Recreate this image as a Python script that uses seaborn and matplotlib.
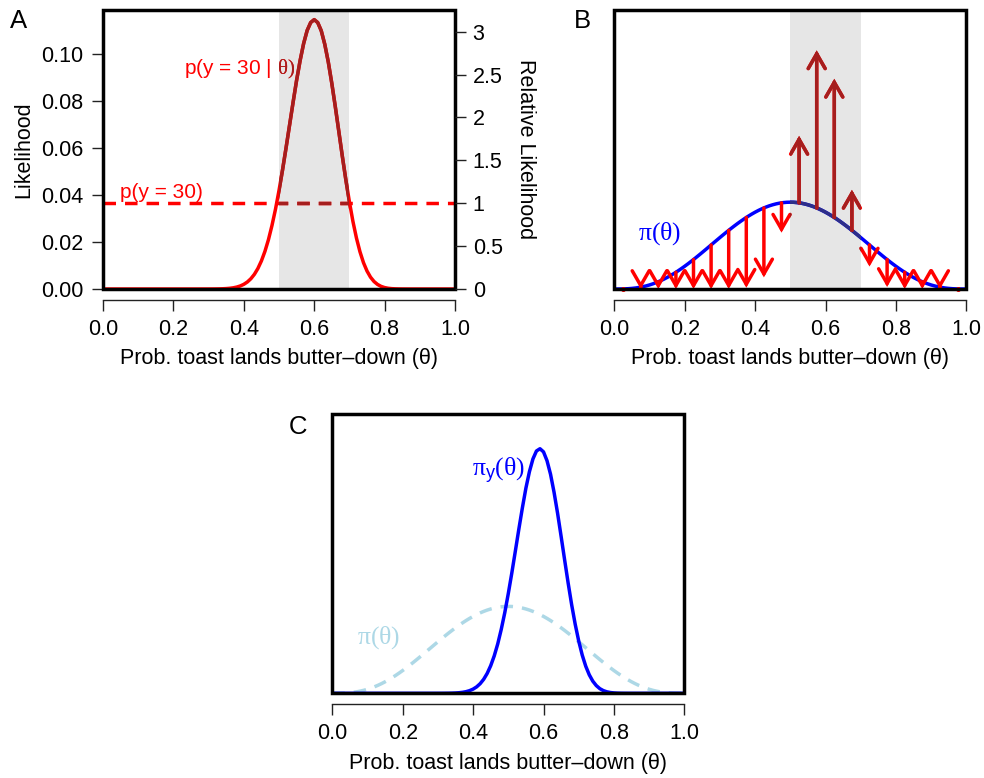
import matplotlib
matplotlib.use("Agg")
import matplotlib.pyplot as plt
import seaborn as sns
from matplotlib.patches import Rectangle, FancyArrowPatch

# ---------------- data ----------------
theta = [0.00, 0.01, 0.02, 0.03, 0.04, 0.05, 0.06, 0.07, 0.08, 0.09,
         0.10, 0.11, 0.12, 0.13, 0.14, 0.15, 0.16, 0.17, 0.18, 0.19,
         0.20, 0.21, 0.22, 0.23, 0.24, 0.25, 0.26, 0.27, 0.28, 0.29,
         0.30, 0.31, 0.32, 0.33, 0.34, 0.35, 0.36, 0.37, 0.38, 0.39,
         0.40, 0.41, 0.42, 0.43, 0.44, 0.45, 0.46, 0.47, 0.48, 0.49,
         0.50, 0.51, 0.52, 0.53, 0.54, 0.55, 0.56, 0.57, 0.58, 0.59,
         0.60, 0.61, 0.62, 0.63, 0.64, 0.65, 0.66, 0.67, 0.68, 0.69,
         0.70, 0.71, 0.72, 0.73, 0.74, 0.75, 0.76, 0.77, 0.78, 0.79,
         0.80, 0.81, 0.82, 0.83, 0.84, 0.85, 0.86, 0.87, 0.88, 0.89,
         0.90, 0.91, 0.92, 0.93, 0.94, 0.95, 0.96, 0.97, 0.98, 0.99, 1.00]

likelihood = [0, 0, 0, 0, 0, 0, 0, 0, 0, 0,
              0, 0, 0, 0, 0, 0, 0, 0, 0, 0,
              0, 0, 0, 0, 0, 0, 0, 0, 0.000002, 0.000004,
              0.000008, 0.0000155, 0.000030, 0.0000563, 0.000102, 0.000179, 0.000306, 0.000508, 0.00082, 0.001294,
              0.00199, 0.002977, 0.00436, 0.006234, 0.00872, 0.011944, 0.0160, 0.020974, 0.0270, 0.033923,
              0.0419, 0.050609, 0.0600, 0.069723, 0.0794, 0.088801, 0.0972, 0.10445, 0.1100, 0.11338,
              0.1146, 0.11336, 0.1099, 0.10413, 0.0966, 0.087504, 0.0775, 0.066968, 0.0564, 0.046349,
              0.0371, 0.028774, 0.0217, 0.015858, 0.0112, 0.007655, 0.00503, 0.003181, 0.00193, 0.001113,
              0.00061, 0.000318, 0.000156, 0.0000715, 0.000030, 0.000012, 0.000004, 0, 0, 0,
              0, 0, 0, 0, 0, 0, 0, 0, 0, 0, 0]

prior = [0.0, 0.000136, 0.00105, 0.00345, 0.0079, 0.0150, 0.0251, 0.0386, 0.0558, 0.0769,
         0.1021, 0.1314, 0.1649, 0.2026, 0.2443, 0.2902, 0.3399, 0.3933, 0.4502, 0.5103,
         0.5734, 0.6392, 0.7074, 0.7776, 0.8496, 0.9229, 0.9971, 1.0720, 1.1471, 1.2221,
         1.2965, 1.3701, 1.4425, 1.5132, 1.5820, 1.6485, 1.7123, 1.7732, 1.8309, 1.8850,
         1.9354, 1.9817, 2.0238, 2.0614, 2.0944, 2.1225, 2.1458, 2.1640, 2.1770, 2.1849,
         2.1875, 2.1849, 2.1770, 2.1640, 2.1458, 2.1225, 2.0944, 2.0614, 2.0238, 1.9817,
         1.9354, 1.8850, 1.8309, 1.7732, 1.7123, 1.6485, 1.5820, 1.5132, 1.4425, 1.3701,
         1.2965, 1.2221, 1.1471, 1.0720, 0.9971, 0.9229, 0.8496, 0.7776, 0.7074, 0.6392,
         0.5734, 0.5103, 0.4502, 0.3933, 0.3399, 0.2902, 0.2443, 0.2026, 0.1649, 0.1314,
         0.1021, 0.0769, 0.0558, 0.0386, 0.0251, 0.0150, 0.0079, 0.00345, 0.00105, 0.000136, 0.0]

posterior = [0, 0, 0, 0, 0, 0, 0, 0, 0, 0,
             0, 0, 0, 0, 0, 0, 0, 0, 0, 0,
             0, 0, 0, 0, 0, 0, 0, 0, 0, 0.0001,
             0.0003, 0.0006, 0.0012, 0.0023, 0.0044, 0.0081, 0.0144, 0.0247, 0.0411, 0.0668,
             0.1054, 0.1616, 0.2417, 0.3521, 0.5004, 0.6945, 0.9406, 1.2435, 1.6104, 2.0306,
             2.5111, 3.0295, 3.5786, 4.1337, 4.668, 5.1638, 5.578, 5.899, 6.099, 6.156,
             6.077, 5.854, 5.513, 5.059, 4.532, 3.952, 3.359, 2.776, 2.229, 1.740,
             1.318, 0.963, 0.682, 0.466, 0.306, 0.194, 0.1171, 0.0678, 0.0374, 0.0195,
             0.0096, 0.0044, 0.0019, 0.0008, 0.0003, 0.0001, 0, 0, 0, 0,
             0, 0, 0, 0, 0, 0, 0, 0, 0, 0, 0]

p_y30 = 0.0365          # marginal likelihood p(y = 30)

arrow_theta = [0.025, 0.075, 0.125, 0.175, 0.225, 0.275, 0.325, 0.375, 0.425, 0.475,
               0.525, 0.575, 0.625, 0.675, 0.725, 0.775, 0.825, 0.875, 0.925, 0.975]
arrow_prior = [0.00203, 0.0467, 0.1832, 0.4213, 0.7423, 1.1095, 1.4780, 1.8025, 2.0431, 2.1711,
               2.1711, 2.0431, 1.8025, 1.4780, 1.1095, 0.7423, 0.4213, 0.1832, 0.0467, 0.00203]
arrow_post = [0, 0, 0, 0, 0, 0, 0.0016, 0.0321, 0.2928, 1.4193,
              3.858, 6.013, 5.296, 2.498, 0.566, 0.0506, 0.0012, 0, 0, 0]

shade_range = [0.5, 0.7]

x_ticks = [0.0, 0.2, 0.4, 0.6, 0.8, 1.0]
x_tick_labels = ["0.0", "0.2", "0.4", "0.6", "0.8", "1.0"]
lik_ticks = [0.00, 0.02, 0.04, 0.06, 0.08, 0.10]
lik_tick_labels = ["0.00", "0.02", "0.04", "0.06", "0.08", "0.10"]
rel_ticks = [0, 0.5, 1, 1.5, 2, 2.5, 3]
rel_tick_labels = ["0", "0.5", "1", "1.5", "2", "2.5", "3"]

x_label = "Prob. toast lands butter\u2013down (\u03b8)"

# ---------------- style ----------------
sns.set_style("white")
plt.rcParams["font.family"] = ["Liberation Sans", "DejaVu Sans"]
plt.rcParams["mathtext.fontset"] = "custom"
plt.rcParams["mathtext.rm"] = "Liberation Serif"
plt.rcParams["mathtext.it"] = "Liberation Serif"
plt.rcParams["mathtext.sf"] = "Liberation Sans"
plt.rcParams["text.color"] = "black"
plt.rcParams["axes.labelcolor"] = "black"
plt.rcParams["xtick.color"] = "black"
plt.rcParams["ytick.color"] = "black"

RED = "#FF0000"
DARKRED = "#A51E1E"
BLUE = "#0000FF"
DARKBLUE = "#2E2E88"
LIGHTBLUE = "#ADD8E6"
SHADE = "#E6E6E6"
AXCOL = "#222222"
FS = 15.5
LW = 2.5
FRAME_LW = 2.5
DASH = (0, (3.6, 2.6))

W, H = 984, 778
fig = plt.figure(figsize=(W / 100, H / 100), dpi=100)


def axes_px(left, top, width, height):
    return fig.add_axes([left / W, 1 - (top + height) / H, width / W, height / H])


def setup_common(ax, ymax):
    ax.set_xlim(0, 1)
    ax.set_ylim(0, ymax)
    ax.set_facecolor("white")
    ax.set_xticks(x_ticks)
    ax.set_xticklabels(x_tick_labels)
    for s in ["top", "right", "left"]:
        ax.spines[s].set_visible(False)
    ax.spines["bottom"].set_position(("outward", 7.7))
    ax.spines["bottom"].set_linewidth(1.0)
    ax.spines["bottom"].set_color(AXCOL)
    ax.tick_params(axis="x", bottom=True, length=7.7, width=1.0, color=AXCOL,
                   pad=6, labelsize=FS, labelcolor="black")
    ax.add_patch(Rectangle((0, 0), 1, 1, transform=ax.transAxes, fill=False,
                           lw=FRAME_LW, ec="black", zorder=10, clip_on=False))
    ax.set_xlabel(x_label, fontsize=FS)
    ax.xaxis.set_label_coords(0.5, -0.213)


def clip_rect(ax):
    return Rectangle((shade_range[0], -1000), shade_range[1] - shade_range[0], 2000,
                     transform=ax.transData)


def dark_copy_line(ax, x, y, color, clip, **kw):
    sns.lineplot(x=x, y=y, ax=ax, color=color, linewidth=LW, legend=False, **kw)
    ln = ax.lines[-1]
    ln.set_clip_path(clip)
    return ln


# ---------------- Panel A ----------------
axA = axes_px(103, 10, 352, 279)
ymaxA = 0.1187
setup_common(axA, ymaxA)
axA.axvspan(shade_range[0], shade_range[1], color=SHADE, lw=0, zorder=0)
clipA = clip_rect(axA)

axA.axhline(p_y30, color=RED, lw=LW, linestyle=DASH, zorder=2)
dA = axA.axhline(p_y30, color=DARKRED, lw=LW, linestyle=DASH, zorder=2)
dA.set_clip_path(clipA)

sns.lineplot(x=theta, y=likelihood, ax=axA, color=RED, linewidth=LW, legend=False, zorder=3)
dark_copy_line(axA, theta, likelihood, DARKRED, clipA, zorder=3)

for col, clip in [(RED, None), (DARKRED, clipA)]:
    t = axA.text(0.545, 0.0932, r"p(y = 30 | $\theta)$", color=col, fontsize=15,
                 ha="right", va="center", zorder=4, clip_on=clip is not None)
    if clip is not None:
        t.set_clip_path(clip)
axA.text(0.048, 0.0409, "p(y = 30)", color=RED, fontsize=15, ha="left", va="center", zorder=4)

axA.set_yticks(lik_ticks)
axA.set_yticklabels(lik_tick_labels)
axA.tick_params(axis="y", left=True, length=7.7, width=1.0, color=AXCOL, pad=6.5, labelsize=FS)
axA.set_ylabel("Likelihood", fontsize=FS)

axA2 = axA.twinx()
axA2.set_ylim(0, ymaxA / p_y30)
for s in axA2.spines.values():
    s.set_visible(False)
axA2.set_yticks(rel_ticks)
axA2.set_yticklabels(rel_tick_labels)
axA2.tick_params(axis="y", right=True, length=7.7, width=1.0, color=AXCOL, pad=5, labelsize=FS)
axA2.set_ylabel("Relative Likelihood", fontsize=FS, rotation=270, va="bottom")
axA2.yaxis.set_label_coords(1.170, 0.5)
axA.yaxis.set_label_coords(-0.195, 0.5)

# ---------------- Panel B ----------------
axB = axes_px(614.3, 10, 352, 279)
ymaxBC = 7.03
setup_common(axB, ymaxBC)
axB.set_yticks([])
axB.axvspan(shade_range[0], shade_range[1], color=SHADE, lw=0, zorder=0)
clipB = clip_rect(axB)

sns.lineplot(x=theta, y=prior, ax=axB, color=BLUE, linewidth=LW, legend=False, zorder=2)
dark_copy_line(axB, theta, prior, DARKBLUE, clipB, zorder=2)

astyle = "->,head_length=1.06,head_width=0.61"
for xa, y0, y1 in zip(arrow_theta, arrow_prior, arrow_post):
    if abs(y1 - y0) > 0.01:
        for col, clip in [(RED, None), (DARKRED, clipB)]:
            arr = FancyArrowPatch((xa, y0), (xa, y1), arrowstyle=astyle, mutation_scale=10,
                                  lw=LW, color=col, shrinkA=0, shrinkB=0, zorder=3,
                                  capstyle="round", joinstyle="miter")
            axB.add_patch(arr)
            if clip is not None:
                arr.set_clip_path(clip)
    else:
        axB.plot([xa], [y0], marker="o", ms=2.6, color=RED, zorder=3, clip_on=False)

axB.text(0.067, 1.40, r"$\pi(\theta)$", color=BLUE, fontsize=18.5, ha="left", va="center", zorder=4)
axB.set_ylabel("Density", fontsize=FS)
axB.yaxis.set_label_coords(-0.049, 0.5)

# ---------------- Panel C ----------------
axC = axes_px(332.3, 414, 352, 279.3)
setup_common(axC, ymaxBC)
axC.set_yticks([])
sns.lineplot(x=theta, y=prior, ax=axC, color=LIGHTBLUE, linewidth=LW, legend=False, zorder=2)
axC.lines[-1].set_linestyle(DASH)
sns.lineplot(x=theta, y=posterior, ax=axC, color=BLUE, linewidth=LW, legend=False, zorder=3)
axC.text(0.546, 5.6, r"$\pi_{\mathsf{y}}(\theta)$", color=BLUE, fontsize=18.5,
         ha="right", va="center", zorder=4)
axC.text(0.071, 1.41, r"$\pi(\theta)$", color=LIGHTBLUE, fontsize=18.5,
         ha="left", va="center", zorder=4)
axC.set_ylabel("Density", fontsize=FS)
axC.yaxis.set_label_coords(-0.049, 0.5)

# ---------------- panel letters ----------------
fig.text(10.0 / W, 1 - 28.5 / H, "A", fontsize=18.5, va="baseline", ha="left")
fig.text(574 / W, 1 - 28.5 / H, "B", fontsize=18.5, va="baseline", ha="left")
fig.text(289 / W, 1 - 433.5 / H, "C", fontsize=18.5, va="baseline", ha="left")

fig.savefig("out.png", dpi=100)
